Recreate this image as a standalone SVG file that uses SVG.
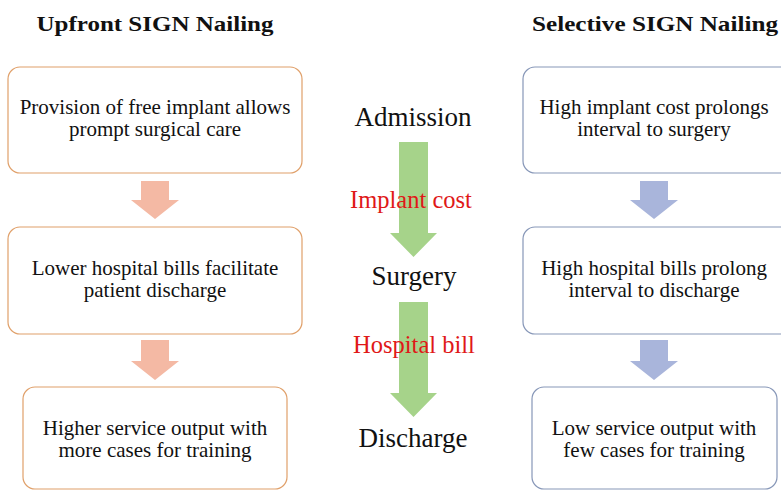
<svg xmlns="http://www.w3.org/2000/svg" width="781" height="490" viewBox="0 0 781 490">
<style>
text{font-family:"Liberation Serif","Times New Roman",serif;text-anchor:middle;fill:#111}
.title{font-size:22px;font-weight:bold}
.body{font-size:21px}
.stage{font-size:27px}
.cause{font-size:24.5px;fill:#E01818}
.lbox{fill:#fff;stroke:#E0A06A;stroke-width:1.2}
.rbox{fill:#fff;stroke:#8797B8;stroke-width:1.2}
.larr{fill:#F4B9A4}
.rarr{fill:#A9B5DB}
.garr{fill:#A6D38A}
</style>
<rect width="781" height="490" fill="#fff"/>
<text class="title" x="155" y="31" textLength="237" lengthAdjust="spacingAndGlyphs">Upfront SIGN Nailing</text>
<text class="title" x="655" y="31" textLength="246" lengthAdjust="spacingAndGlyphs">Selective SIGN Nailing</text>

<g id="connectors">
  <polygon class="larr" points="141,181 169,181 169,200 179,200 155,219 131,200 141,200"/>
  <polygon class="larr" points="141,340 169,340 169,361 179,361 155,380 131,361 141,361"/>
  <polygon class="rarr" points="640,181 668,181 668,200 678,200 654,219 630,200 640,200"/>
  <polygon class="rarr" points="640,340 668,340 668,361 678,361 654,380 630,361 640,361"/>
  <polygon class="garr" points="399,142 428,142 428,233 437,233 413.5,257 390,233 399,233"/>
  <polygon class="garr" points="399,302 428,302 428,393 437,393 413.5,417 390,393 399,393"/>
</g>

<g id="stage-admission"><text class="stage" x="413" y="126">Admission</text></g>
<g id="label-implant-cost"><text class="cause" x="411" y="208">Implant cost</text></g>
<g id="stage-surgery"><text class="stage" x="414" y="285">Surgery</text></g>
<g id="label-hospital-bill"><text class="cause" x="414" y="353">Hospital bill</text></g>
<g id="stage-discharge"><text class="stage" x="413" y="447">Discharge</text></g>

<g id="up1">
  <rect class="lbox" x="8" y="67" width="294" height="106" rx="12"/>
  <text class="body" x="155" y="114">Provision of free implant allows<tspan x="155" dy="22">prompt surgical care</tspan></text>
</g>
<g id="up2">
  <rect class="lbox" x="8" y="227" width="294" height="107" rx="12"/>
  <text class="body" x="155" y="275">Lower hospital bills facilitate<tspan x="155" dy="22">patient discharge</tspan></text>
</g>
<g id="up3">
  <rect class="lbox" x="23" y="387" width="264" height="102" rx="12"/>
  <text class="body" x="155" y="435">Higher service output with<tspan x="155" dy="22">more cases for training</tspan></text>
</g>

<g id="sel1">
  <rect class="rbox" x="523" y="67" width="270" height="106" rx="12"/>
  <text class="body" x="654" y="114">High implant cost prolongs<tspan x="654" dy="22">interval to surgery</tspan></text>
</g>
<g id="sel2">
  <rect class="rbox" x="523" y="227" width="270" height="107" rx="12"/>
  <text class="body" x="654" y="275">High hospital bills prolong<tspan x="654" dy="22">interval to discharge</tspan></text>
</g>
<g id="sel3">
  <rect class="rbox" x="532" y="387" width="245" height="102" rx="12"/>
  <text class="body" x="654" y="435">Low service output with<tspan x="654" dy="22">few cases for training</tspan></text>
</g>
</svg>
